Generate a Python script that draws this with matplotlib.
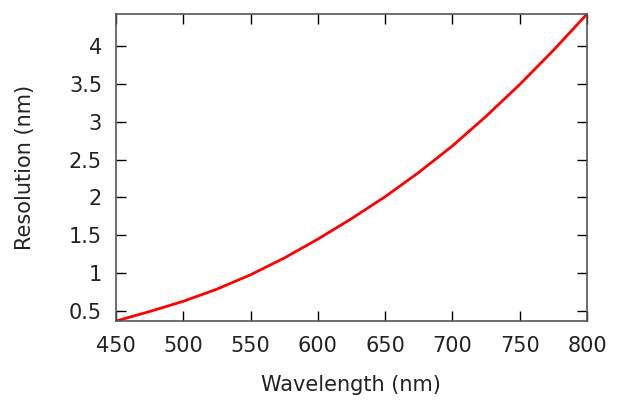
import numpy as np
import matplotlib
matplotlib.use('Agg')
import matplotlib.pyplot as plt

# values
wavelength = [450, 475, 500, 525, 550, 575, 600, 625, 650, 675, 700, 725, 750, 775, 800]
resolution = [0.37, 0.495, 0.63, 0.79, 0.98, 1.20, 1.45, 1.72, 2.01, 2.33, 2.68, 3.07, 3.49, 3.94, 4.42]

xticks = [450, 500, 550, 600, 650, 700, 750, 800]
yticks = [0.5, 1, 1.5, 2, 2.5, 3, 3.5, 4]
ytick_labels = ['0.5', '1', '1.5', '2', '2.5', '3', '3.5', '4']

plt.rcParams['font.family'] = ['DejaVu Sans']

fig = plt.figure(figsize=(6.19, 4.01), dpi=100)
ax = fig.add_axes([116/619, 1 - 321/401, (587 - 116)/619, (321 - 14)/401])

ax.plot(wavelength, resolution, color='#ff0000', linewidth=2.0)

ax.set_xlim(450, 800)
ax.set_ylim(0.37, 4.42)
ax.set_xticks(xticks)
ax.set_yticks(yticks)
ax.set_yticklabels(ytick_labels)

ax.tick_params(direction='in', length=7.5, width=1, top=True, right=True,
               labelsize=15, colors='black', labelcolor='#222222')
ax.tick_params(axis='x', pad=11)
ax.tick_params(axis='y', pad=10)
for s in ax.spines.values():
    s.set_color('#555555')
    s.set_linewidth(1.2)

ax.set_xlabel('Wavelength (nm)', fontsize=15, color='#222222', va='center')
ax.set_ylabel('Resolution (nm)', fontsize=15, color='#222222', va='center')
ax.xaxis.set_label_coords((351 - 116) / 471, (321 - 385) / 307)
ax.yaxis.set_label_coords((25 - 116) / 471, 0.5)

fig.savefig('out.png', dpi=100)
